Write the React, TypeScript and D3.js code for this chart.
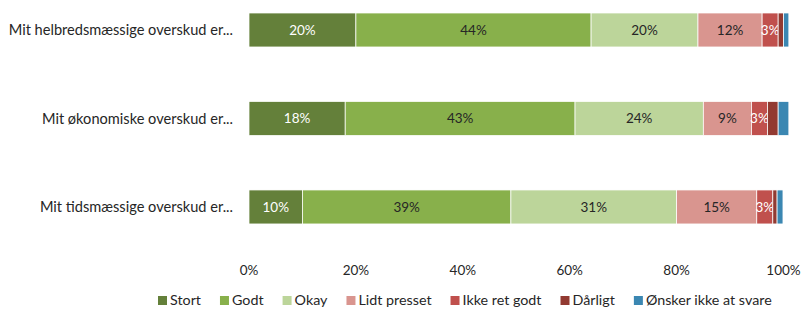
import React, { useRef, useEffect } from 'react';
import * as d3 from 'd3';

const categories = [
    'Mit helbredsmæssige overskud er...',
    'Mit økonomiske overskud er...',
    'Mit tidsmæssige overskud er...',
];

const seriesNames = ['Stort', 'Godt', 'Okay', 'Lidt presset', 'Ikke ret godt', 'Dårligt', 'Ønsker ikke at svare'];
const seriesColors = ['#64803a', '#88b04b', '#bcd59a', '#d9958f', '#c0504d', '#923a31', '#3b87b2'];
const labelColors = ['#ffffff', '#262626', '#262626', '#262626', '#ffffff', '#ffffff', '#ffffff'];

// percent per category, in series order
const stort = [20, 18, 10];
const godt = [44, 43, 39];
const okay = [20, 24, 31];
const lidtPresset = [12, 9, 15];
const ikkeRetGodt = [3, 3, 3];
const daarligt = [1, 2, 0.8];
const oenskerIkke = [1, 2, 1.1];

const xTicks = [0, 20, 40, 60, 80, 100];

const FONT = 'Lato, "Open Sans", sans-serif';

const App: React.FC = () => {
    const svgRef = useRef<SVGSVGElement>(null);
    const width = 801;
    const height = 309;

    useEffect(() => {
        if (!svgRef.current) return;
        const svg = d3.select(svgRef.current);
        svg.selectAll('*').remove();

        const series = [stort, godt, okay, lidtPresset, ikkeRetGodt, daarligt, oenskerIkke];

        const x = d3.scaleLinear().domain([0, 100]).range([249, 783.5]);
        // step 88.5, bar 34
        const y = d3.scaleBand<string>()
            .domain(categories)
            .range([-31.25, 268.2])
            .paddingInner(0.616)
            .paddingOuter(0.5);

        // stacked bars
        categories.forEach((cat, ci) => {
            let acc = 0;
            series.forEach((vals, si) => {
                const v = vals[ci];
                const x0 = x(acc);
                const x1 = x(acc + v);
                acc += v;
                svg.append('rect')
                    .attr('x', x0)
                    .attr('y', y(cat)!)
                    .attr('width', x1 - x0)
                    .attr('height', y.bandwidth())
                    .attr('fill', seriesColors[si])
                    .attr('stroke', '#ffffff')
                    .attr('stroke-width', 0.75);
                if (v >= 3) {
                    svg.append('text')
                        .attr('x', (x0 + x1) / 2)
                        .attr('y', y(cat)! + y.bandwidth() / 2)
                        .attr('dy', '0.35em')
                        .attr('text-anchor', 'middle')
                        .attr('font-family', FONT)
                        .attr('font-size', 13.5)
                        .attr('fill', labelColors[si])
                        .text(`${Math.round(v)}%`);
                }
            });
        });

        // category labels
        categories.forEach(cat => {
            svg.append('text')
                .attr('x', 233)
                .attr('y', y(cat)! + y.bandwidth() / 2)
                .attr('dy', '0.35em')
                .attr('text-anchor', 'end')
                .attr('font-family', FONT)
                .attr('font-size', 14.6)
                .attr('fill', '#262626')
                .text(cat);
        });

        // x tick labels
        xTicks.forEach(t => {
            svg.append('text')
                .attr('x', x(t))
                .attr('y', 270)
                .attr('dy', '0.35em')
                .attr('text-anchor', 'middle')
                .attr('font-family', FONT)
                .attr('font-size', 13.5)
                .attr('fill', '#262626')
                .text(`${t}%`);
        });

        // legend
        const legend = svg.append('g').attr('transform', 'translate(158,305)');
        let lx = 0;
        seriesNames.forEach((name, i) => {
            const g = legend.append('g').attr('transform', `translate(${lx},0)`);
            g.append('rect')
                .attr('x', 0)
                .attr('y', -9)
                .attr('width', 9)
                .attr('height', 9)
                .attr('fill', seriesColors[i]);
            const t = g.append('text')
                .attr('x', 12)
                .attr('y', 0)
                .attr('font-family', FONT)
                .attr('font-size', 14.3)
                .attr('fill', '#262626')
                .text(name);
            const w = (t.node() as SVGTextElement).getComputedTextLength();
            lx += 12 + w + 19;
        });
    }, []);

    return (
        <svg
            ref={svgRef}
            width={width}
            height={height}
            style={{ position: 'absolute', left: 0, top: 0, background: '#fff' }}
        />
    );
};

export default App;
